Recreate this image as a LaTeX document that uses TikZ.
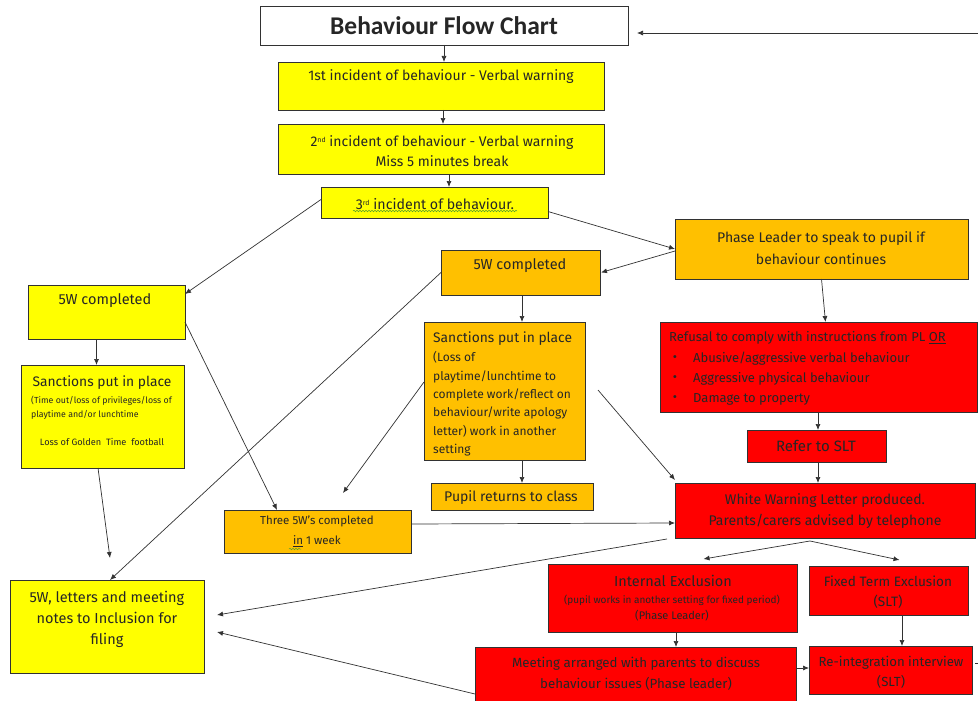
\documentclass[tikz,border=0pt]{standalone}
\usepackage{fontspec}
\setmainfont{Fira Sans}
\newfontfamily\titlefont{Carlito}
\usetikzlibrary{calc,arrows.meta,decorations.pathmorphing}
\definecolor{ylw}{RGB}{255,255,0}
\definecolor{org}{RGB}{255,192,0}
\definecolor{rdd}{RGB}{255,0,0}
\definecolor{edge}{RGB}{50,50,50}
\newcommand{\smallsup}[1]{\raisebox{0.55ex}{\fontsize{7}{8}\selectfont #1}}
\begin{document}
\begin{tikzpicture}[x=1pt,y=-1pt,
  box/.style={draw=edge, line width=0.9pt, anchor=north west, inner sep=0pt, outer sep=0pt},
  ybox/.style={box, fill=ylw},
  obox/.style={box, fill=org},
  rbox/.style={box, fill=rdd},
  arr/.style={draw=edge, line width=0.7pt, -{Latex[length=6pt,width=5pt]}},
  txt/.style={inner sep=0pt, align=center, text=black!85},
  fs/.style={font=\fontsize{#1}{20}\selectfont},
  wavy/.style={draw={rgb,255:red,90;green,160;blue,40}, line width=0.5pt, decorate, decoration={snake, amplitude=0.8pt, segment length=3pt}}
]
\clip (0,0) rectangle (978,701);
\fill[white] (0,0) rectangle (978,701);

% ---------- boxes ----------
\node[box, fill=white, minimum width=368pt, minimum height=39pt] (title) at (260,6) {};
\node[ybox, minimum width=326pt, minimum height=48pt] (b1) at (278,62) {};
\node[ybox, minimum width=326pt, minimum height=50pt] (b2) at (278,124) {};
\node[ybox, minimum width=227pt, minimum height=31pt] (b3) at (321,187) {};
\node[ybox, minimum width=157pt, minimum height=54pt] (w5L) at (28,285) {};
\node[ybox, minimum width=163pt, minimum height=103pt] (sanL) at (21,365) {};
\node[ybox, minimum width=194pt, minimum height=93pt] (file) at (10,580) {};
\node[obox, minimum width=159pt, minimum height=45pt] (w5M) at (441,250) {};
\node[obox, minimum width=161pt, minimum height=138pt] (sanM) at (424,322) {};
\node[obox, minimum width=162pt, minimum height=27pt] (pupil) at (431,483) {};
\node[obox, minimum width=293pt, minimum height=60pt] (phase) at (675,219) {};
\node[rbox, minimum width=317pt, minimum height=90pt] (refusal) at (660,322) {};
\node[rbox, minimum width=139pt, minimum height=32pt] (refer) at (747,430) {};
\node[rbox, minimum width=300pt, minimum height=55pt] (white) at (675,483) {};
\node[obox, minimum width=187pt, minimum height=43pt] (three) at (224,510) {};
\node[rbox, minimum width=249pt, minimum height=68pt] (internal) at (548,564) {};
\node[rbox, minimum width=159pt, minimum height=49pt] (fixed) at (809,566) {};
\node[rbox, minimum width=321pt, minimum height=60pt] (meeting) at (475,647) {};
\node[rbox, minimum width=163pt, minimum height=48pt] (reint) at (809,646) {};

% ---------- texts ----------
\node[txt, font=\titlefont\bfseries\fontsize{25.5}{28}\selectfont] (titlet) at (444,26) {Behaviour Flow Chart};
\node[txt, fs=14] (b1t) at (441,77) {1st incident of behaviour - Verbal warning};
\node[txt, font=\fontsize{14}{20}\selectfont] (b2t) at (442,151) {2\smallsup{nd} incident of behaviour - Verbal warning\\Miss 5 minutes break};
\node[txt, fs=14.2] (b3t) at (435,204) {3\smallsup{rd} incident of behaviour.};
\node[txt, fs=14.5] (w5Lt) at (105,301) {5W completed};
\node[txt, fs=13.8] (sanLh) at (102,383) {Sanctions put in place};
\node[txt, anchor=west, align=left, font=\fontsize{8.8}{14}\selectfont] (sanLa) at (31,408) {(Time out/loss of privileges/loss of\\playtime and/or lunchtime};
\node[txt, font=\fontsize{9.2}{14}\selectfont] (sanLb) at (102,442) {Loss of Golden\ \ Time\ \ football};
\node[txt, fs=14.5] (w5Mt) at (520,266) {5W completed};
\node[txt, anchor=west, fs=13.8] (sanMh) at (433,339) {Sanctions put in place};
\node[txt, anchor=north west, align=left, font=\fontsize{12}{18.3}\selectfont] (sanMb) at (433,351.5) {(Loss of\\playtime/lunchtime to\\complete work/reflect on\\behaviour/write apology\\letter) work in another\\setting};
\node[txt, fs=14] (pupilt) at (511,498) {Pupil returns to class};
\node[txt, font=\fontsize{14}{22}\selectfont] (phaset) at (821,248) {Phase Leader to speak to pupil if\\behaviour continues};
\node[txt, anchor=west, fs=13] (reft1) at (669,338) {Refusal to comply with instructions from PL \underline{OR}};
\node[txt, fs=13] (bul1) at (675,359) {\textbullet};
\node[txt, fs=13] (bul2) at (675,379) {\textbullet};
\node[txt, fs=13] (bul3) at (675,399) {\textbullet};
\node[txt, anchor=west, fs=13] (reft2) at (693,359) {Abusive/aggressive verbal behaviour};
\node[txt, anchor=west, fs=13] (reft3) at (693,379) {Aggressive physical behaviour};
\node[txt, anchor=west, fs=13] (reft4) at (693,399) {Damage to property};
\node[txt, fs=15] (refert) at (816,446) {Refer to SLT};
\node[txt, font=\fontsize{14}{21}\selectfont] (whitet) at (825,511) {White Warning Letter produced.\\Parents/carers advised by telephone};
\node[txt, font=\fontsize{11.5}{20}\selectfont] (threet) at (317,531) {Three 5W’s completed\\\underline{in} 1 week};
\node[txt, fs=14.5] (int1) at (673,581) {Internal Exclusion};
\node[txt, font=\fontsize{10}{11}\selectfont] (int2) at (672,600) {(pupil works in another setting for fixed period)};
\node[txt, font=\fontsize{11}{12}\selectfont] (int3) at (672,616) {(Phase Leader)};
\node[txt, font=\fontsize{13.6}{20}\selectfont] (fixedt) at (888,592) {Fixed Term Exclusion\\(SLT)};
\node[txt, font=\fontsize{13.3}{21}\selectfont] (meett) at (636,673.5) {Meeting arranged with parents to discuss\\behaviour issues (Phase leader)};
\node[txt, font=\fontsize{13.2}{20}\selectfont] (reintt) at (891,672) {Re-integration interview\\(SLT)};
\node[txt, font=\fontsize{14.5}{21}\selectfont] (filet) at (107,619) {5W, letters and meeting\\notes to Inclusion for\\filing};

% spell-check underlines
\draw[wavy] (353,211) -- (517,211);
\draw[wavy] (289,549) -- (301,549);

% ---------- connectors ----------
\coordinate (rt) at (978,33);
\draw[arr] (rt) -- ($(title.east)+(9,7.5)$);
\draw[arr] (title.south) -- (title.south |- b1.north);
\draw[arr] ([xshift=2pt]b1.south) -- ([xshift=2pt]b1.south |- b2.north);
\draw[arr] ([xshift=8pt]b2.south) -- ([xshift=8pt]b2.south |- b3.north);
\draw[arr] ([yshift=3pt]b3.west) -- ([yshift=-9pt]w5L.north east);
\draw[arr] ([yshift=-9pt]b3.east) -- (phase.west);
\draw[arr] ([yshift=-2pt]phase.west) -- ([xshift=1pt]w5M.east);
\draw[arr] (phase.south) -- ([xshift=7pt]refusal.north);
\draw[arr] ([xshift=-10pt]w5L.south) -- ([xshift=-10pt]w5L.south |- sanL.north);
\draw[arr] ([yshift=-37pt]w5L.north east) -- ([xshift=53pt]three.north west);
\draw[arr] ([xshift=-4.5pt]sanL.south) -- ($(file.north)+(3,-22)$);
\draw[arr] (w5M.west) -- ([xshift=3pt]file.north);
\draw[arr] ([xshift=1.5pt]w5M.south) -- ([xshift=1.5pt]w5M.south |- sanM.north);
\draw[arr] ([xshift=17.5pt]sanM.south) -- ([xshift=17.5pt]sanM.south |- pupil.north);
\draw[arr] ([yshift=9pt]sanM.west) -- ($(three.north west)+(119,-17)$);
\draw[arr] ($(sanM.east)+(13,-1)$) -- ([yshift=3pt]white.north west);
\draw[arr] ([xshift=-0.5pt]refusal.south) -- ([xshift=-0.5pt]refusal.south |- refer.north);
\draw[arr] ([xshift=1.5pt]refer.south) -- ([xshift=1.5pt]refer.south |- white.north);
\draw[arr] ([yshift=7.5pt]three.east) -- ([yshift=-12.5pt]white.west);
\draw[arr] ($(white.south west)+(-8,1)$) -- ($(file.east)+(13,-11.5)$);
\coordinate (split) at ($(white.south)+(-15,3)$);
\draw[arr] (split) -- ($(internal.north)+(31,-5)$);
\draw[arr] (split) -- ($(fixed.north)+(11,-6)$);
\draw[arr] ([xshift=3.5pt]internal.south) -- ([xshift=3.5pt]internal.south |- meeting.north);
\draw[arr] ([xshift=13.5pt]fixed.south) -- ([xshift=13.5pt]fixed.south |- reint.north);
\draw[arr] ([yshift=9pt]meeting.east) -- ([yshift=9pt]meeting.east -| reint.west);
\draw[arr] ([yshift=-17pt]meeting.west) -- ($(file.east)+(13,5.5)$);
\draw[edge, line width=0.6pt] ($(reint.east)+(3,-7)$) -- ++(4,0);
\end{tikzpicture}
\end{document}
